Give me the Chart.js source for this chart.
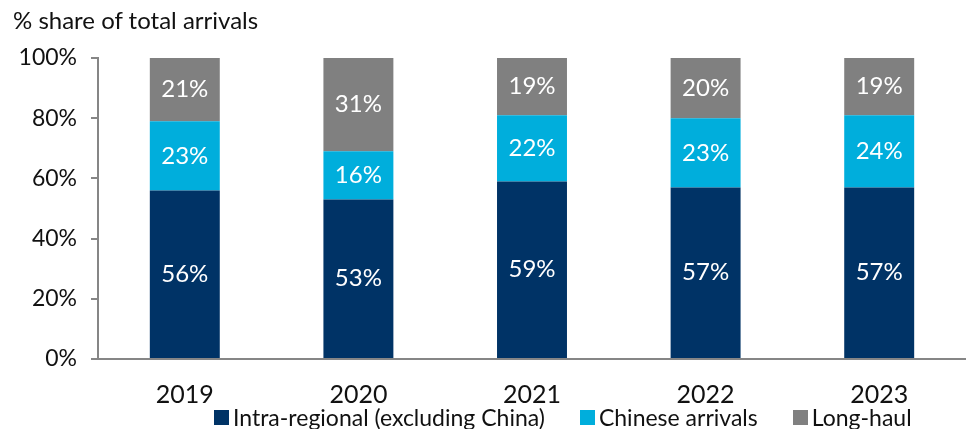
<!DOCTYPE html>
<html>
<head>
<meta charset="utf-8">
<script src="https://cdn.jsdelivr.net/npm/chart.js@4.4.1/dist/chart.umd.min.js"></script>
<style>
  body { margin: 0; background: #fff; font-family: Lato, sans-serif; }
  #wrap { position: relative; width: 966px; height: 429px; overflow: hidden; }
  #sub { position: absolute; left: 13px; top: 5px; font-size: 24px; color: #111; }
  #legend { position: absolute; left: 214px; top: 403px; display: flex; font-size: 23px; color: #111; }
  #legend .item { display: flex; align-items: center; margin-right: 35px; }
  #legend .box { width: 15px; height: 15px; margin-right: 4px; }
</style>
</head>
<body>
<div id="wrap">
  <canvas id="chart" width="966" height="429"></canvas>
  <div id="sub">% share of total arrivals</div>
  <div id="legend"></div>
</div>
<script>
// categories and series (% share)
const years = ['2019', '2020', '2021', '2022', '2023'];
const intraRegional = [56, 53, 59, 57, 57];
const chineseArrivals = [23, 16, 22, 23, 24];
const longHaul = [21, 31, 19, 20, 19];
const seriesNames = ['Intra-regional (excluding China)', 'Chinese arrivals', 'Long-haul'];
const seriesColors = ['#003366', '#00AEDC', '#808080'];
const yTicks = [0, 20, 40, 60, 80, 100];

// white value labels in the middle of each segment
const barLabels = {
  id: 'barLabels',
  afterDatasetsDraw(chart) {
    const ctx = chart.ctx;
    ctx.save();
    ctx.fillStyle = '#fff';
    ctx.font = '24px Lato';
    ctx.textAlign = 'center';
    ctx.textBaseline = 'middle';
    chart.data.datasets.forEach((ds, i) => {
      chart.getDatasetMeta(i).data.forEach((bar, j) => {
        ctx.fillText(ds.data[j] + '%', bar.x, (bar.y + bar.base) / 2);
      });
    });
    ctx.restore();
  }
};

const datasets = [intraRegional, chineseArrivals, longHaul].map((d, i) => ({
  label: seriesNames[i],
  data: d,
  backgroundColor: seriesColors[i],
  categoryPercentage: 1,
  barPercentage: 0.403
}));

new Chart(document.getElementById('chart'), {
  type: 'bar',
  data: { labels: years, datasets: datasets },
  plugins: [barLabels],
  options: {
    responsive: false,
    animation: false,
    layout: { padding: { top: 58, right: 0, left: 0, bottom: 0 } },
    plugins: { legend: { display: false }, tooltip: { enabled: false } },
    scales: {
      x: {
        stacked: true,
        grid: { display: false },
        border: { display: true, color: '#868686', width: 2 },
        ticks: { color: '#111', font: { family: 'Lato', size: 25 }, padding: 13 },
        afterFit: s => { s.height = 70; }
      },
      y: {
        stacked: true,
        min: 0,
        max: 100,
        afterBuildTicks: s => { s.ticks = yTicks.map(v => ({ value: v })); },
        grid: { drawOnChartArea: false, drawTicks: true, tickLength: 7, color: '#868686', lineWidth: 2 },
        border: { display: true, color: '#868686', width: 2 },
        ticks: { color: '#111', font: { family: 'Lato', size: 23 }, padding: 14, callback: v => v + '%' },
        afterFit: s => { s.width = 98; }
      }
    }
  }
});

// legend built from the series arrays
const legend = document.getElementById('legend');
seriesNames.forEach((name, i) => {
  const item = document.createElement('div');
  item.className = 'item';
  item.innerHTML = '<span class="box" style="background:' + seriesColors[i] + '"></span>' + name;
  legend.appendChild(item);
});
</script>
</body>
</html>
